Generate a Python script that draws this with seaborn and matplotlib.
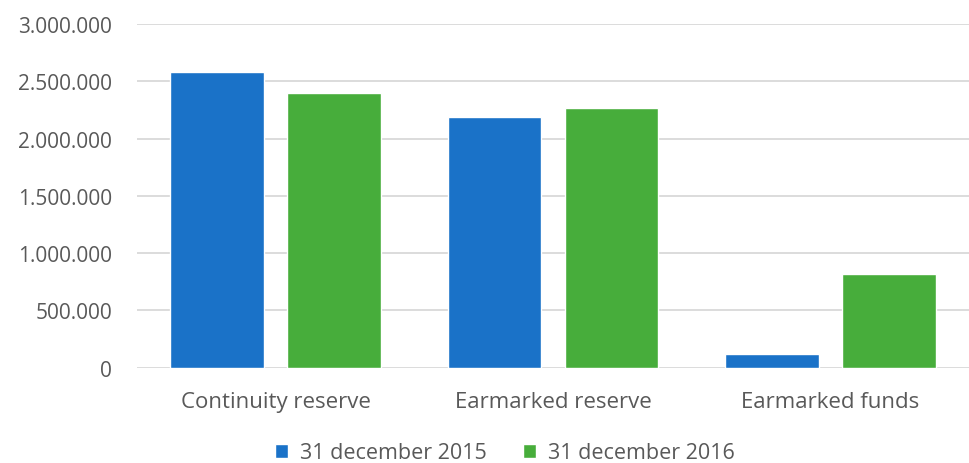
import matplotlib
matplotlib.use("Agg")
import matplotlib.pyplot as plt
import seaborn as sns
import pandas as pd
from matplotlib.ticker import FuncFormatter

categories = ["Continuity reserve", "Earmarked reserve", "Earmarked funds"]
series_names = ["31 december 2015", "31 december 2016"]
values_2015 = [2580000, 2190000, 117000]
values_2016 = [2400000, 2264000, 818000]
yticks = [0, 500000, 1000000, 1500000, 2000000, 2500000, 3000000]

df = pd.DataFrame({
    "category": categories * 2,
    "series": [series_names[0]] * 3 + [series_names[1]] * 3,
    "value": values_2015 + values_2016,
})

sns.set_theme(style="white")
plt.rcParams['font.family'] = ['Open Sans', 'DejaVu Sans']
text_color = "#595959"

fig = plt.figure(figsize=(9.69, 4.64), dpi=100)
ax = fig.add_axes([0.1414, 0.2054, 0.8586, 0.7406])

palette = {series_names[0]: "#1a72c8", series_names[1]: "#47ad3b"}
sns.barplot(data=df, x="category", y="value", hue="series", palette=palette,
            width=0.845, gap=0.2, ax=ax, saturation=1, legend=True)

ax.set_ylim(0, 3000000)
ax.set_xlim(-0.5, 2.5)
ax.set_yticks(yticks)
ax.yaxis.set_major_formatter(FuncFormatter(lambda v, p: f"{int(v):,}".replace(",", ".")))
ax.grid(axis="y", color="#d9d9d9", linewidth=1.3)
ax.set_axisbelow(True)
for s in ax.spines.values():
    s.set_visible(False)
ax.tick_params(axis="y", length=0, pad=18, labelsize=15, labelcolor=text_color)
ax.tick_params(axis="x", length=0, pad=17, labelsize=16, labelcolor=text_color)
ax.set_xlabel("")
ax.set_ylabel("")

handles, labels = ax.get_legend_handles_labels()
ax.legend_.remove()
fig.legend(handles, labels, loc="center", bbox_to_anchor=(0.521, 0.022), ncol=2,
           frameon=False, fontsize=15.5, labelcolor=text_color, handlelength=0.6,
           handleheight=0.6, handletextpad=0.56, columnspacing=1.67,
           borderpad=0.1)

fig.savefig("out.png", dpi=100)
